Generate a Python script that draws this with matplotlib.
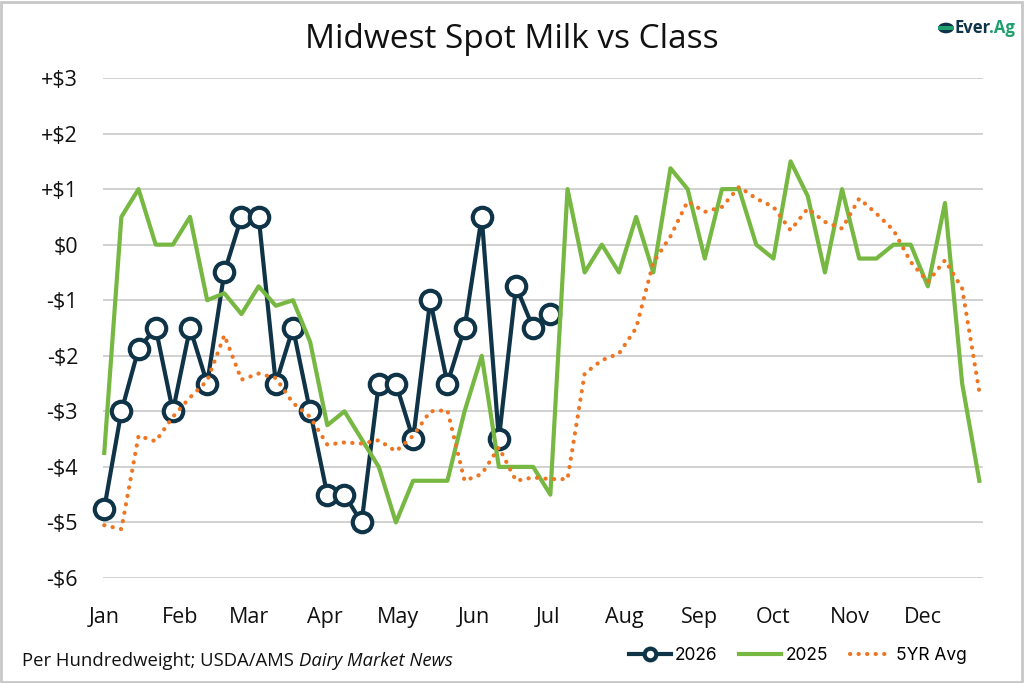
import numpy as np
import matplotlib.pyplot as plt
from matplotlib.patches import Rectangle, Circle

# weekly spread, $/cwt, Midwest spot milk vs class
spot_2026 = [-4.75, -3.0, -1.875, -1.5, -3.0, -1.5, -2.5, -0.5, 0.5, 0.5,
             -2.5, -1.5, -3.0, -4.5, -4.5, -5.0, -2.5, -2.5, -3.5, -1.0,
             -2.5, -1.5, 0.5, -3.5, -0.75, -1.5, -1.25]
spot_2025 = [-3.75, 0.5, 1.0, 0.0, 0.0, 0.5, -1.0, -0.875, -1.25, -0.75,
             -1.1, -1.0, -1.75, -3.25, -3.0, -3.5, -4.0, -5.0, -4.25, -4.25,
             -4.25, -3.0, -2.0, -4.0, -4.0, -4.0, -4.5, 1.0, -0.5, 0.0,
             -0.5, 0.5, -0.5, 1.375, 1.0, -0.25, 1.0, 1.0, 0.0, -0.25,
             1.5, 0.875, -0.5, 1.0, -0.25, -0.25, 0.0, 0.0, -0.75, 0.75,
             -2.5, -4.25]
avg_5yr = [-5.05, -5.12, -3.44, -3.54, -3.1, -2.75, -2.45, -1.63, -2.43, -2.32,
           -2.4, -2.85, -3.1, -3.6, -3.56, -3.58, -3.52, -3.72, -3.44, -3.0,
           -2.98, -4.25, -4.13, -3.65, -4.25, -4.19, -4.22, -4.22, -2.32, -2.08,
           -1.96, -1.5, -0.32, 0.15, 0.78, 0.59, 0.68, 1.04, 0.83, 0.68,
           0.26, 0.65, 0.41, 0.29, 0.83, 0.56, 0.26, -0.31, -0.67, -0.28,
           -0.79, -2.65]

months = ['Jan', 'Feb', 'Mar', 'Apr', 'May', 'Jun', 'Jul', 'Aug', 'Sep', 'Oct', 'Nov', 'Dec']
month_start = [0, 31, 59, 90, 120, 151, 181, 212, 243, 273, 304, 334]
yticks = [3, 2, 1, 0, -1, -2, -3, -4, -5, -6]
ylabels = ['+$3', '+$2', '+$1', '$0', '-$1', '-$2', '-$3', '-$4', '-$5', '-$6']

NAVY = '#0f3448'
GREEN = '#77b843'
ORANGE = '#ee7623'
LOGO_GREEN = '#1f9e6e'
GRID = '#c9c9c9'

plt.rcParams['font.family'] = ['Open Sans', 'DejaVu Sans']

fig = plt.figure(figsize=(10.24, 6.83), dpi=100)
ax = fig.add_axes([103/1024, 105/683, 880/1024, 500/683])

d26 = np.arange(len(spot_2026))*7
d25 = np.arange(len(spot_2025))*7
d5 = np.arange(len(avg_5yr))*7

ax.plot(d26, spot_2026, color=NAVY, lw=3, marker='o', ms=14, mfc='white',
        mec=NAVY, mew=3, label='2026', zorder=3, clip_on=False)
ax.plot(d25, spot_2025, color=GREEN, lw=3, label='2025', zorder=4, clip_on=False)
ax.plot(d5, avg_5yr, color=ORANGE, lw=3, ls=(0, (0.05, 2.0)), dash_capstyle='round',
        label='5YR Avg', zorder=5, clip_on=False)

ax.set_xlim(-0.5, 358.5)
ax.set_ylim(-6, 3)
ax.set_yticks(yticks)
ax.set_yticklabels(ylabels)
ax.set_xticks(month_start)
ax.set_xticklabels(months)
ax.grid(axis='y', color=GRID, lw=1.2)
ax.set_axisbelow(True)
for s in ax.spines.values():
    s.set_visible(False)
ax.tick_params(length=0, labelsize=15.5, colors='#111111')
ax.tick_params(axis='y', pad=18)
ax.tick_params(axis='x', pad=21)

fig.text(0.5, 1-39/683, 'Midwest Spot Milk vs Class', ha='center', va='center',
         fontsize=24, color='#111111')

# footer note, last part in italics
renderer = fig.canvas.get_renderer()
t1 = fig.text(22/1024, 1-661/683, 'Per Hundredweight; USDA/AMS ', ha='left', va='center',
              fontsize=13.3, color='#111111')
bb = t1.get_window_extent(renderer)
fig.text(bb.x1/1024, 1-661/683, 'Dairy Market News', ha='left', va='center',
         fontsize=13.3, style='italic', color='#111111')

leg = fig.legend(loc='center right', bbox_to_anchor=(982/1024, 1-656/683), ncol=3,
                 frameon=False, handlelength=2.4, handletextpad=0.25,
                 columnspacing=1.25, numpoints=1, markerscale=0.6,
                 prop={'family': ['Inter', 'DejaVu Sans'], 'size': 12.5})

# Ever.Ag logo
fig.patches.append(Circle((946/1024, 1-28/683), 0.0078, transform=fig.transFigure,
                          fc=NAVY, ec='none'))
fig.patches.append(Rectangle((938/1024, 1-30/683), 16/1024, 4/683, transform=fig.transFigure,
                             fc=LOGO_GREEN, ec='none'))
tl = fig.text(955/1024, 1-28/683, 'Ever', ha='left', va='center', fontsize=12,
              fontweight='bold', color=NAVY)
bb = tl.get_window_extent(renderer)
fig.text(bb.x1/1024 - 0.002, 1-28/683, '.Ag', ha='left', va='center', fontsize=12,
         fontweight='bold', color=LOGO_GREEN)

fig.patches.append(Rectangle((0.001, 0.0015), 0.997, 0.996, transform=fig.transFigure,
                             fill=False, ec='#c8c8c8', lw=2))

fig.savefig('out.png', dpi=100)
